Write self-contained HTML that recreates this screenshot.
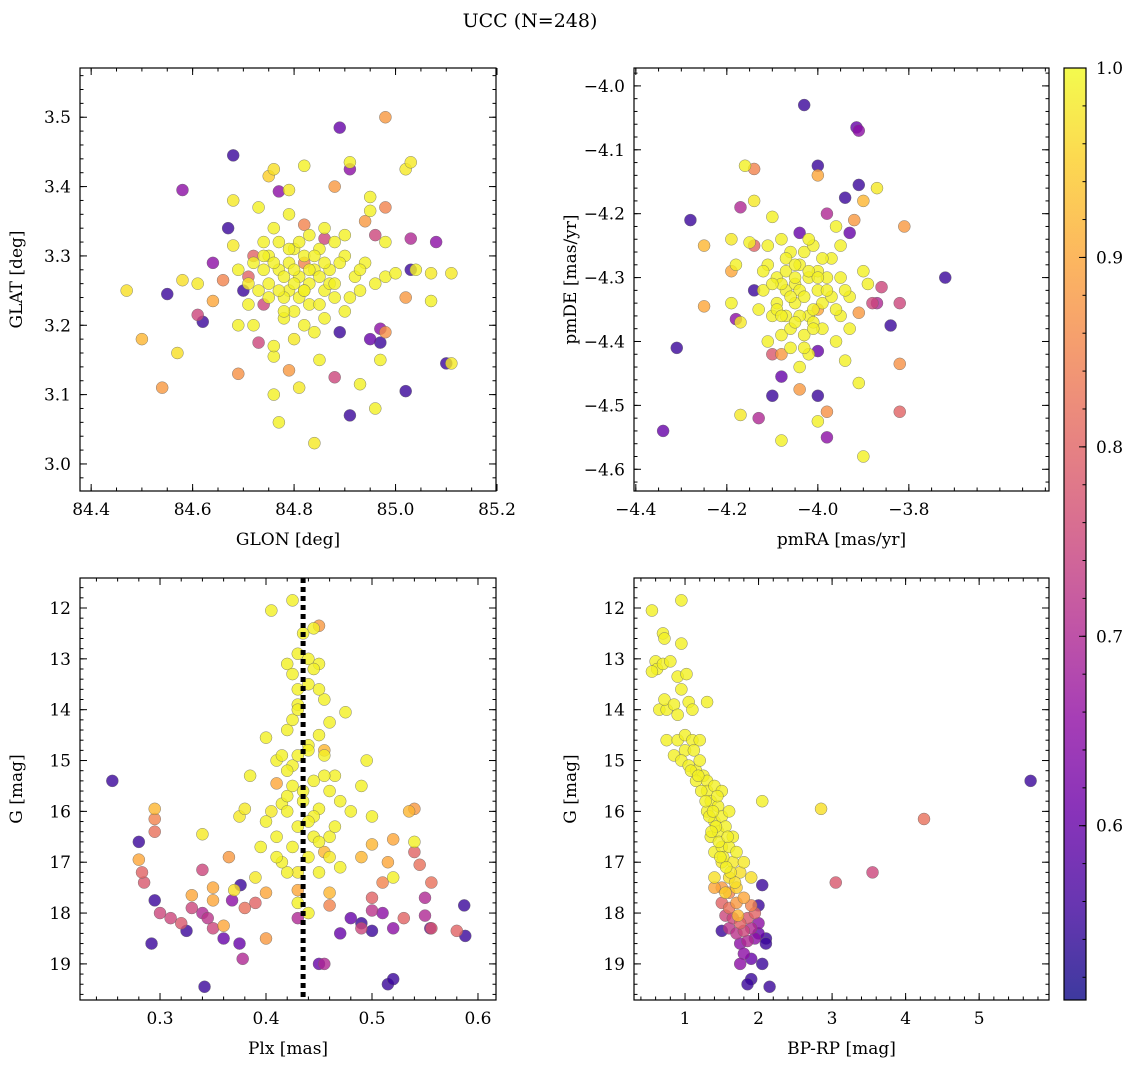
<!DOCTYPE html>
<html><head><meta charset="utf-8"><style>
body{margin:0;background:#fff;}
svg{display:block;font-family:"DejaVu Serif","Liberation Serif",serif;}
</style></head><body>
<svg id="c" width="1136" height="1067" viewBox="0 0 1136 1067" xmlns="http://www.w3.org/2000/svg">
<text x="530" y="27" font-size="19" text-anchor="middle">UCC (N=248)</text>
</svg>
<script>
// ---- data ----
const p1_glon=[84.89,84.68,84.58,84.77,84.91,84.67,84.70,84.55,84.62,84.64,84.91,85.10,85.02,84.89,84.95,84.97,84.97,85.08,85.03,85.03,84.88,84.86,84.96,84.74,84.73,84.71,84.61,84.72,
84.98,84.50,84.54,84.69,84.88,84.98,85.02,84.94,84.98,84.66,84.64,84.82,84.79,84.82,
84.47,84.57,84.58,84.61,84.68,84.68,84.71,84.69,84.73,84.75,84.76,84.79,84.82,84.91,84.95,84.95,85.02,85.03,85.04,85.07,85.11,85.11,85.07,84.98,85.0,84.96,84.84,84.77,84.76,84.81,84.93,84.97,84.85,84.76,84.76,84.8,84.72,84.78,84.8,84.84,84.9,84.93,84.9,84.9,84.85,84.83,84.81,84.79,84.77,84.75,84.74,84.76,84.79,84.8,84.82,84.84,84.86,84.86,84.88,84.87,84.92,84.94,84.98,84.83,84.78,84.75,84.73,84.71,84.82,84.86,84.88,84.77,84.74,84.79,84.83,84.85,84.81,
84.80,84.82,84.78,84.76,84.84,84.87,84.89,84.91,84.81,84.79,84.83,84.77,84.75,84.85,84.80,84.72,84.88,84.86,84.82,84.78,84.74,84.93,84.69,84.96];
const p1_glat=[3.485,3.445,3.395,3.393,3.425,3.34,3.25,3.245,3.205,3.29,3.07,3.145,3.105,3.19,3.18,3.175,3.195,3.32,3.325,3.28,3.125,3.325,3.33,3.23,3.175,3.27,3.215,3.3,
3.5,3.18,3.11,3.13,3.40,3.37,3.24,3.35,3.19,3.265,3.235,3.345,3.135,3.29,
3.25,3.16,3.265,3.26,3.38,3.315,3.26,3.2,3.37,3.415,3.425,3.395,3.43,3.435,3.385,3.365,3.425,3.435,3.28,3.275,3.275,3.145,3.235,3.27,3.275,3.08,3.03,3.06,3.10,3.11,3.115,3.15,3.15,3.155,3.17,3.18,3.2,3.21,3.22,3.19,3.22,3.25,3.3,3.33,3.31,3.26,3.27,3.25,3.28,3.3,3.32,3.34,3.36,3.31,3.3,3.28,3.25,3.21,3.24,3.28,3.27,3.29,3.32,3.23,3.24,3.26,3.25,3.23,3.20,3.34,3.32,3.32,3.28,3.29,3.33,3.27,3.24,
3.26,3.25,3.27,3.29,3.30,3.26,3.29,3.24,3.32,3.31,3.28,3.25,3.24,3.23,3.28,3.29,3.26,3.29,3.25,3.22,3.30,3.28,3.28,3.26];
const p1_prob=[0.6,0.55,0.65,0.65,0.65,0.55,0.55,0.55,0.55,0.65,0.55,0.55,0.55,0.55,0.6,0.55,0.65,0.65,0.7,0.55,0.75,0.75,0.75,0.75,0.75,0.8,0.75,0.8,
0.88,0.92,0.88,0.87,0.88,0.85,0.88,0.88,0.87,0.85,0.9,0.85,0.88,0.85,
0.97,0.97,0.97,0.98,0.98,0.98,0.98,0.99,0.99,0.95,0.97,0.98,0.99,0.99,0.99,0.99,0.98,0.98,0.99,0.98,0.98,0.98,0.99,0.99,0.99,0.99,0.98,0.99,0.99,0.98,0.99,0.99,0.99,0.99,0.99,0.98,0.99,0.99,0.99,0.99,0.99,0.99,0.99,0.99,0.99,0.99,0.99,0.99,0.99,0.99,0.99,0.99,0.99,0.99,0.99,0.99,0.99,0.99,0.99,0.99,0.99,0.99,0.99,0.99,0.99,0.99,0.99,0.99,0.99,0.99,0.99,0.99,0.99,0.99,0.99,0.99,0.99,
0.99,0.99,0.99,0.99,0.99,0.99,0.99,0.99,0.99,0.99,0.99,0.99,0.99,0.99,0.99,0.99,0.99,0.99,0.99,0.99,0.99,0.99,0.99,0.99];

const p2_pmra=[-4.03,-4.0,-3.915,-3.91,-3.91,-3.94,-3.93,-4.28,-4.31,-4.34,-3.72,-3.84,-4.1,-4.0,-3.98,-4.08,-4.04,-3.98,-4.17,-4.13,-4.18,-4.14,-4.0,-3.88,-3.86,-3.82,-3.82,-4.1,-4.14,-4.14,-3.87,
-4.25,-4.25,-4.19,-4.0,-3.92,-3.81,-3.82,-3.98,-4.04,-3.91,-4.08,-3.9,-4.0,
-4.16,-4.14,-4.1,-4.15,-4.19,-4.18,-4.19,-4.17,-4.17,-4.08,-4.0,-3.91,-3.9,-3.87,-3.89,-3.9,-3.95,-3.96,-3.97,-3.95,-3.93,-3.95,-3.94,-3.96,-3.99,-4.02,-4.05,-4.07,-4.09,-4.11,-4.12,-4.1,-4.08,-4.06,-4.04,-4.02,-4.0,-4.02,-4.04,-4.06,-4.07,-4.05,-4.03,-4.01,-3.99,-3.98,-3.99,-4.01,-4.03,-4.07,-4.09,-4.11,-4.13,-4.08,-3.97,-3.93,-4.04,-4.06,-4.11,
-4.05,-4.03,-4.01,-4.00,-4.06,-4.08,-4.04,-4.02,-3.98,-4.05,-4.07,-4.09,-4.03,-4.01,-3.96,-4.10,-4.12,-3.94,-4.02,-4.05,-4.08,-4.00];
const p2_pmde=[-4.03,-4.125,-4.065,-4.07,-4.155,-4.175,-4.23,-4.21,-4.41,-4.54,-4.3,-4.375,-4.485,-4.485,-4.55,-4.455,-4.23,-4.2,-4.19,-4.52,-4.365,-4.32,-4.415,-4.34,-4.315,-4.51,-4.34,-4.42,-4.25,-4.13,-4.34,
-4.345,-4.25,-4.29,-4.14,-4.21,-4.22,-4.435,-4.51,-4.475,-4.355,-4.42,-4.18,-4.35,
-4.125,-4.18,-4.205,-4.245,-4.24,-4.28,-4.34,-4.37,-4.515,-4.555,-4.525,-4.465,-4.58,-4.16,-4.31,-4.29,-4.25,-4.22,-4.27,-4.3,-4.33,-4.36,-4.43,-4.4,-4.38,-4.36,-4.34,-4.32,-4.30,-4.28,-4.32,-4.36,-4.39,-4.41,-4.44,-4.42,-4.32,-4.3,-4.28,-4.26,-4.29,-4.31,-4.26,-4.25,-4.27,-4.3,-4.34,-4.37,-4.39,-4.36,-4.34,-4.25,-4.35,-4.24,-4.33,-4.38,-4.32,-4.38,-4.4,
-4.30,-4.33,-4.35,-4.29,-4.33,-4.31,-4.36,-4.29,-4.32,-4.37,-4.27,-4.35,-4.41,-4.38,-4.35,-4.31,-4.29,-4.32,-4.24,-4.28,-4.36,-4.30];
const p2_prob=[0.55,0.55,0.6,0.65,0.55,0.55,0.6,0.55,0.55,0.6,0.55,0.55,0.55,0.55,0.65,0.6,0.6,0.7,0.7,0.7,0.65,0.55,0.6,0.75,0.75,0.8,0.75,0.78,0.8,0.85,0.7,
0.9,0.92,0.9,0.9,0.88,0.88,0.87,0.87,0.88,0.88,0.88,0.92,0.9,
0.99,0.98,0.99,0.99,0.98,0.99,0.99,0.98,0.98,0.99,0.99,0.99,0.99,0.98,0.99,0.99,0.99,0.99,0.99,0.99,0.99,0.99,0.99,0.99,0.99,0.99,0.99,0.99,0.99,0.99,0.99,0.99,0.99,0.99,0.99,0.99,0.99,0.99,0.99,0.99,0.99,0.99,0.99,0.99,0.99,0.99,0.99,0.99,0.99,0.99,0.99,0.99,0.99,0.99,0.99,0.99,0.99,0.99,0.99,
0.99,0.99,0.99,0.99,0.99,0.99,0.99,0.99,0.99,0.99,0.99,0.99,0.99,0.99,0.99,0.99,0.99,0.99,0.99,0.99,0.99,0.99];

const p3_plx=[0.255,0.28,0.295,0.292,0.342,0.325,0.36,0.375,0.376,0.368,0.378,0.47,0.48,0.49,0.50,0.515,0.52,0.51,0.52,0.55,0.555,0.587,0.588,0.45,0.455,0.55,0.3,0.31,0.32,0.33,0.34,0.345,0.35,0.283,0.285,0.295,0.34,0.38,0.39,0.43,0.46,0.5,0.53,0.556,0.58,0.556,0.54,0.545,0.49,0.5,0.51,
0.28,0.295,0.295,0.33,0.35,0.35,0.36,0.365,0.4,0.4,0.43,0.45,0.455,0.455,0.49,0.5,0.52,0.535,0.54,0.46,0.41,0.515,
0.34,0.37,0.375,0.38,0.385,0.39,0.4,0.4,0.405,0.41,0.415,0.42,0.42,0.425,0.425,0.43,0.43,0.435,0.44,0.44,0.445,0.445,0.45,0.45,0.455,0.46,0.46,0.465,0.47,0.475,0.48,0.49,0.495,0.5,0.52,0.54,0.42,0.43,0.425,0.43,0.44,0.41,0.42,0.445,0.455,0.45,0.43,0.425,0.44,0.415,0.395,0.47,0.465,0.435,0.42,0.44,0.45,0.43,
0.425,0.445,0.43,0.45,0.44,0.42,0.455,0.435,0.41,0.46,0.445,0.425,0.44,0.45,0.43,0.415,0.46,0.405];
const p3_g=[15.4,16.6,17.75,18.6,19.45,18.35,18.5,18.6,17.45,17.75,18.9,18.4,18.1,18.2,18.35,19.4,19.3,18.0,18.3,18.05,18.3,17.85,18.45,19.0,19.0,17.7,18.0,18.1,18.2,17.9,18.0,18.1,18.3,17.2,17.4,16.4,17.15,17.9,17.8,18.1,17.85,17.95,18.1,18.3,18.35,17.4,16.8,17.05,18.3,17.7,17.4,
16.95,15.95,16.15,17.65,17.5,17.75,18.25,16.9,18.5,17.6,17.55,12.35,14.8,16.8,16.9,16.65,16.55,16.0,15.95,17.6,15.45,17.0,
16.45,17.55,16.1,15.95,15.3,17.3,14.55,16.2,12.05,16.5,15.85,14.4,17.2,11.85,15.1,16.3,13.6,12.5,14.7,13.0,12.4,15.4,13.1,15.95,13.8,14.25,16.5,15.3,17.1,14.05,16.0,15.5,15.0,16.1,17.3,16.6,13.1,14.9,16.7,17.8,18.0,15.0,16.0,16.5,15.3,17.2,13.9,14.2,16.9,17.0,16.7,15.8,16.3,15.6,15.7,13.5,14.5,12.9,
13.3,13.2,14.0,13.6,14.8,15.2,14.9,15.8,16.9,15.6,16.1,15.5,16.2,16.6,17.2,14.9,16.9,16.0];
const p3_prob=[0.55,0.55,0.55,0.55,0.55,0.55,0.6,0.6,0.55,0.65,0.7,0.6,0.6,0.55,0.55,0.55,0.55,0.65,0.65,0.7,0.6,0.55,0.55,0.6,0.7,0.7,0.75,0.75,0.78,0.75,0.7,0.72,0.75,0.8,0.78,0.82,0.75,0.82,0.8,0.7,0.85,0.72,0.8,0.78,0.8,0.82,0.8,0.82,0.75,0.8,0.85,
0.9,0.92,0.85,0.9,0.9,0.9,0.9,0.88,0.88,0.9,0.9,0.88,0.92,0.92,0.92,0.92,0.9,0.92,0.88,0.92,0.9,0.9,
0.98,0.97,0.98,0.98,0.99,0.98,0.99,0.99,0.99,0.99,0.99,0.99,0.99,0.99,0.99,0.99,0.99,0.99,0.99,0.99,0.99,0.99,0.99,0.99,0.99,0.99,0.99,0.99,0.99,0.99,0.99,0.99,0.99,0.99,0.99,0.99,0.99,0.99,0.99,0.99,0.99,0.99,0.99,0.99,0.99,0.99,0.99,0.99,0.99,0.99,0.99,0.99,0.99,0.99,0.99,0.99,0.99,0.99,
0.99,0.99,0.99,0.99,0.99,0.99,0.99,0.99,0.99,0.99,0.99,0.99,0.99,0.99,0.98,0.99,0.98,0.98];

const p4_bprp=[0.55,0.95,0.7,0.72,0.6,0.62,0.7,0.8,0.55,0.9,0.95,1.02,0.95,0.65,0.75,0.72,0.85,0.9,1.05,1.1,1.3,0.75,0.9,1.0,0.85,1.0,1.1,1.2,0.95,1.05,1.15,1.2,1.25,1.3,1.3,1.4,1.35,1.5,1.45,1.3,1.4,1.5,1.6,1.35,1.45,1.55,1.65,1.4,1.5,1.6,1.7,1.5,1.65,1.8,1.4,1.6,1.75,1.9,1.55,1.7,2.05,2.85,1.72,
1.4,1.5,1.6,1.5,1.6,1.7,1.8,1.9,1.55,1.65,1.75,1.85,1.95,1.6,1.7,1.8,1.9,2.0,1.75,1.85,1.95,1.8,1.75,1.9,
1.5,2.05,2.0,2.1,2.1,2.05,1.9,1.85,2.15,5.7,3.05,3.55,4.25,2.0,
1.08,1.15,1.22,1.28,1.33,1.38,1.42,1.46,1.52,1.56,1.62,1.44,1.36,1.48,1.58,1.68,1.12,1.18];
const p4_g=[12.05,11.85,12.5,12.6,13.05,13.2,13.1,13.05,13.25,13.35,12.7,13.3,13.6,14.0,14.0,13.8,13.9,14.1,13.85,14.0,13.85,14.6,14.6,14.5,14.9,14.8,14.6,14.6,15.0,15.1,15.2,15.0,15.3,15.4,15.6,15.5,15.8,15.6,15.9,16.0,16.2,16.1,16.0,16.5,16.4,16.3,16.5,16.8,16.7,16.7,16.8,17.0,17.0,17.0,17.3,17.3,17.2,17.3,17.6,17.5,15.8,15.95,18.05,
17.5,17.5,17.6,17.8,17.9,17.8,17.7,17.85,18.05,18.1,18.2,18.1,18.0,18.3,18.4,18.35,18.3,18.2,18.6,18.55,18.5,18.8,19.0,18.9,
18.35,17.45,17.85,18.5,18.6,19.0,19.3,19.4,19.45,15.4,17.4,17.2,16.15,18.4,
15.2,15.4,15.6,15.8,16.1,16.0,16.3,16.6,16.9,17.1,17.2,15.7,16.4,16.9,16.5,17.4,14.8,15.3];
const p4_prob=[0.99,0.99,0.99,0.99,0.99,0.99,0.99,0.99,0.99,0.99,0.99,0.99,0.99,0.99,0.99,0.99,0.99,0.99,0.99,0.99,0.99,0.99,0.99,0.99,0.99,0.99,0.99,0.99,0.99,0.99,0.99,0.99,0.99,0.99,0.99,0.99,0.99,0.99,0.99,0.99,0.99,0.99,0.99,0.99,0.99,0.99,0.99,0.99,0.99,0.99,0.99,0.98,0.98,0.98,0.97,0.97,0.97,0.97,0.95,0.95,0.99,0.97,0.92,
0.9,0.88,0.85,0.8,0.82,0.88,0.9,0.85,0.75,0.75,0.8,0.78,0.8,0.72,0.72,0.75,0.7,0.65,0.65,0.7,0.65,0.65,0.65,0.6,
0.55,0.55,0.55,0.55,0.55,0.55,0.55,0.55,0.55,0.55,0.78,0.75,0.82,0.6,
0.99,0.99,0.99,0.99,0.99,0.99,0.99,0.99,0.99,0.99,0.98,0.99,0.99,0.99,0.99,0.97,0.99,0.99];

const cbTicks=[0.6,0.7,0.8,0.9,1.0];
const vmin=0.508, vmax=1.0;
const plx_mean=0.435;

// ---- rendering ----
const NS="http://www.w3.org/2000/svg";
const svg=document.getElementById('c');
function mk(tag,attrs,parent){const e=document.createElementNS(NS,tag);for(const k in attrs)e.setAttribute(k,attrs[k]);(parent||svg).appendChild(e);return e;}
const stops=["#0d0887","#41049d","#6a00a8","#8f0da4","#b12a90","#cc4778","#e16462","#f2844b","#fca636","#fcce25","#f0f921"];
function hex(h){return [parseInt(h.substr(1,2),16),parseInt(h.substr(3,2),16),parseInt(h.substr(5,2),16)];}
function plasma(t){t=Math.max(0,Math.min(1,t));const f=t*10,i=Math.min(9,Math.floor(f)),r=f-i;const a=hex(stops[i]),b=hex(stops[i+1]);return 'rgb('+a.map((v,k)=>Math.round(v+(b[k]-v)*r)).join(',')+')';}
function fmt(v,d){return (v<0?'\u2212':'')+Math.abs(v).toFixed(d);}

const panels=[
 {name:'glon-glat',x0:80,x1:496,y0:68,y1:491,dx:[84.378,85.198],dy:[3.571,2.961],xs:p1_glon,ys:p1_glat,ps:p1_prob,
  xt:[84.4,84.6,84.8,85.0,85.2],xd:1,xm:0.05,yt:[3.0,3.1,3.2,3.3,3.4,3.5],yd:1,ym:0.02,xl:'GLON [deg]',yl:'GLAT [deg]'},
 {name:'pmra-pmde',x0:634,x1:1049,y0:68,y1:491,dx:[-4.404,-3.492],dy:[-3.972,-4.634],xs:p2_pmra,ys:p2_pmde,ps:p2_prob,
  xt:[-4.4,-4.2,-4.0,-3.8],xd:1,xm:0.05,yt:[-4.6,-4.5,-4.4,-4.3,-4.2,-4.1,-4.0],yd:1,ym:0.02,xl:'pmRA [mas/yr]',yl:'pmDE [mas/yr]'},
 {name:'plx-g',x0:80,x1:496,y0:578,y1:1000,dx:[0.2245,0.617],dy:[11.41,19.71],xs:p3_plx,ys:p3_g,ps:p3_prob,
  xt:[0.3,0.4,0.5,0.6],xd:1,xm:0.02,yt:[12,13,14,15,16,17,18,19],yd:0,ym:0.2,xl:'Plx [mas]',yl:'G [mag]',vline:plx_mean},
 {name:'bprp-g',x0:634,x1:1049,y0:578,y1:1000,dx:[0.306,5.95],dy:[11.41,19.71],xs:p4_bprp,ys:p4_g,ps:p4_prob,
  xt:[1,2,3,4,5],xd:0,xm:0.2,yt:[12,13,14,15,16,17,18,19],yd:0,ym:0.2,xl:'BP-RP [mag]',yl:'G [mag]'}
];
panels.forEach(P=>{
  const g=mk('g',{});
  
  
  const sx=v=>P.x0+(v-P.dx[0])/(P.dx[1]-P.dx[0])*(P.x1-P.x0);
  const sy=v=>P.y0+(v-P.dy[0])/(P.dy[1]-P.dy[0])*(P.y1-P.y0);
  const cp='clip-'+P.name;
  const cpe=mk('clipPath',{id:cp},g);mk('rect',{x:P.x0,y:P.y0,width:P.x1-P.x0,height:P.y1-P.y0},cpe);
  const pts=mk('g',{'clip-path':'url(#'+cp+')'},g);
  
  
  const idx=P.ps.map((p,i)=>i).sort((a,b)=>P.ps[a]-P.ps[b]);
  idx.forEach(i=>{
    const c=mk('circle',{cx:sx(P.xs[i]),cy:sy(P.ys[i]),r:6,fill:plasma((P.ps[i]-vmin)/(vmax-vmin)),'fill-opacity':0.8,stroke:'#666','stroke-width':0.4},pts);
    
    
  });
  if(P.vline!==undefined){
    const l=mk('line',{x1:sx(P.vline),x2:sx(P.vline),y1:P.y0,y2:P.y1,stroke:'#000','stroke-width':5,'stroke-dasharray':'5,4'},g);
    
    
  }
  const f=mk('rect',{x:P.x0,y:P.y0,width:P.x1-P.x0,height:P.y1-P.y0,fill:'none',stroke:'#000','stroke-width':1.2},g);
  
  
  const tk=mk('g',{stroke:'#000','stroke-width':1},g);
  const xa=Math.min(P.dx[0],P.dx[1]),xb=Math.max(P.dx[0],P.dx[1]);
  for(let v=Math.ceil(xa/P.xm)*P.xm;v<=xb;v+=P.xm){const x=sx(v);mk('line',{x1:x,x2:x,y1:P.y1,y2:P.y1-3.5},tk);mk('line',{x1:x,x2:x,y1:P.y0,y2:P.y0+3.5},tk);}
  const ya=Math.min(P.dy[0],P.dy[1]),yb=Math.max(P.dy[0],P.dy[1]);
  for(let v=Math.ceil(ya/P.ym)*P.ym;v<=yb;v+=P.ym){const y=sy(v);mk('line',{x1:P.x0,x2:P.x0+3.5,y1:y,y2:y},tk);mk('line',{x1:P.x1,x2:P.x1-3.5,y1:y,y2:y},tk);}
  P.xt.forEach(v=>{const x=sx(v);mk('line',{x1:x,x2:x,y1:P.y1,y2:P.y1-7},tk);mk('line',{x1:x,x2:x,y1:P.y0,y2:P.y0+7},tk);
    const t=mk('text',{x:x,y:P.y1+24,'font-size':17,'text-anchor':'middle'},g);t.textContent=fmt(v,P.xd);
    });
  P.yt.forEach(v=>{const y=sy(v);mk('line',{x1:P.x0,x2:P.x0+7,y1:y,y2:y},tk);mk('line',{x1:P.x1,x2:P.x1-7,y1:y,y2:y},tk);
    const t=mk('text',{x:P.x0-9,y:y+6,'font-size':17,'text-anchor':'end'},g);t.textContent=fmt(v,P.yd);
    });
  const xl=mk('text',{x:(P.x0+P.x1)/2,y:P.y1+54,'font-size':17,'text-anchor':'middle'},g);xl.textContent=P.xl;
  
  const yx=P.x0-58, yy=(P.y0+P.y1)/2;
  const yl=mk('text',{x:yx,y:yy,'font-size':17,'text-anchor':'middle',transform:'rotate(-90 '+yx+' '+yy+')'},g);yl.textContent=P.yl;
  
});
// colorbar
const cb=mk('g',{});


const defs=mk('defs',{},cb);
const lg=mk('linearGradient',{id:'cbg',x1:0,y1:1,x2:0,y2:0},defs);
for(let i=0;i<=20;i++)mk('stop',{offset:i/20,'stop-color':plasma(i/20)},lg);
const cx0=1064,cx1=1086,cy0=68,cy1=1000;
mk('rect',{x:cx0,y:cy0,width:cx1-cx0,height:cy1-cy0,fill:'url(#cbg)','fill-opacity':0.8},cb);
mk('rect',{x:cx0,y:cy0,width:cx1-cx0,height:cy1-cy0,fill:'none',stroke:'#000','stroke-width':1.2},cb);
const csy=v=>cy1-(v-vmin)/(vmax-vmin)*(cy1-cy0);
for(let v=0.52;v<1.0;v+=0.02){const y=csy(v);mk('line',{x1:cx1,x2:cx1-3.5,y1:y,y2:y,stroke:'#000'},cb);}
cbTicks.forEach(v=>{const y=csy(v);mk('line',{x1:cx1,x2:cx1-7,y1:y,y2:y,stroke:'#000'},cb);
  const t=mk('text',{x:cx1+10,y:y+6,'font-size':17},cb);t.textContent=v.toFixed(1);
  });
</script>
</body></html>
